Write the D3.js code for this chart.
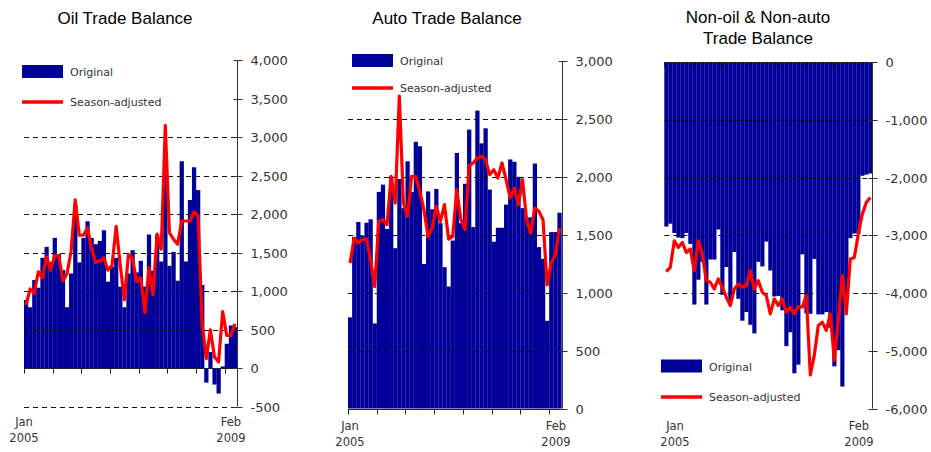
<!DOCTYPE html>
<html>
<head>
<meta charset="utf-8">
<script src="https://cdn.jsdelivr.net/npm/d3@7"></script>
<style>
  html, body { margin: 0; padding: 0; background: #fff; }
  svg { display: block; }
</style>
</head>
<body>
<svg id="chart" width="931" height="452"></svg>
<script>
// Monthly periods shown on each panel
const months = [
  "2005-01","2005-02","2005-03","2005-04","2005-05","2005-06","2005-07","2005-08","2005-09","2005-10","2005-11","2005-12",
  "2006-01","2006-02","2006-03","2006-04","2006-05","2006-06","2006-07","2006-08","2006-09","2006-10","2006-11","2006-12",
  "2007-01","2007-02","2007-03","2007-04","2007-05","2007-06","2007-07","2007-08","2007-09","2007-10","2007-11","2007-12",
  "2008-01","2008-02","2008-03","2008-04","2008-05","2008-06","2008-07","2008-08","2008-09","2008-10","2008-11","2008-12",
  "2009-01","2009-02","2009-03","2009-04"
];
const startLabel = ["Jan", "2005"];
const endLabel = ["Feb", "2009"];

// Oil trade balance
const oilOriginal = [884, 789, 1142, 1043, 1431, 1573, 1379, 1690, 1478, 1271, 789, 1228, 2112, 1371, 1690, 1905, 1690, 1608, 1651, 1789,
  1121, 1315, 1431, 1056, 789, 1228, 1530, 1241, 1392, 1056, 1733, 1263, 1733, 1383, 2521, 1327, 1508, 1133, 2685, 1383,
  2181, 2607, 2310, 1077, -190, 207, -215, -332, 20, 315, 552, 530];
const oilAdjusted = [819, 1026, 970, 1250, 1172, 1444, 1271, 1457, 1457, 1129, 1228, 1517, 2185, 1724, 1724, 1819, 1552, 1371, 1388, 1431,
  1271, 1336, 1840, 1336, 884, 1474, 1422, 1121, 1170, 720, 1300, 950, 1740, 1543, 3150, 1758, 1672, 1608, 1909, 1909,
  1909, 2026, 1974, 573, 121, 496, 142, 78, 733, 422, 422, 573];
const oilTicks = [-500, 0, 500, 1000, 1500, 2000, 2500, 3000, 3500, 4000];
const oilGrid = [-500, 500, 1000, 1500, 2000, 2500, 3000];

// Auto trade balance
const autoOriginal = [787, 1480, 1610, 1494, 1604, 1633, 734, 1870, 1933, 1550, 2004, 1384, 1981, 1730, 2134, 1869, 2302, 2264, 1248, 1874,
  1720, 1895, 1600, 1220, 1053, 1450, 2206, 1600, 1940, 2408, 1566, 2572, 2289, 2419, 1890, 1440, 1560, 1560, 1760, 2150,
  2130, 2000, 1730, 1650, 1650, 2115, 1393, 1292, 757, 1523, 1523, 1690];
const autoAdjusted = [1255, 1471, 1428, 1456, 1465, 1283, 1053, 1615, 1630, 1586, 2004, 1774, 2697, 1774, 1658, 2004, 2004, 1875, 1716, 1485,
  1557, 1745, 1615, 1760, 1462, 1485, 1889, 1630, 1543, 2097, 2120, 2163, 2177, 2149, 2019, 2062, 1990, 2120, 1975, 1817,
  1903, 1760, 1975, 1630, 1514, 1730, 1702, 1630, 1067, 1255, 1327, 1557];
const autoTicks = [0, 500, 1000, 1500, 2000, 2500, 3000];
const autoGrid = [500, 1000, 1500, 2000, 2500];

// Non-oil & non-auto trade balance
const otherOriginal = [-2850, -2800, -2960, -3040, -3050, -2960, -3150, -4200, -3770, -3460, -4200, -3420, -3420, -2900, -4030, -3550, -4150, -3290, -4100, -4480,
  -4330, -4550, -4700, -3460, -3540, -3110, -3610, -4060, -4050, -4300, -4920, -4680, -5390, -5240, -3330, -4350, -4360, -3410, -4370, -4370,
  -4330, -4600, -5270, -4990, -5620, -4130, -3050, -2970, -2970, -1970, -1950, -1930];
const otherAdjusted = [-3631, -3556, -3096, -3211, -3124, -3297, -3240, -3613, -3096, -3326, -3786, -3815, -3930, -3757, -3901, -4074, -4218, -3930, -3844, -3901,
  -3872, -3613, -3930, -3786, -3987, -4045, -4361, -4103, -4218, -4103, -4333, -4246, -4361, -4235, -4246, -4045, -5420, -5081, -4563, -4505,
  -4649, -4361, -5167, -4477, -3700, -4361, -3412, -3384, -2981, -2635, -2434, -2348];
const otherTicks = [-6000, -5000, -4000, -3000, -2000, -1000, 0];
const otherGrid = [-1000, -2000, -3000, -4000];

const legendNames = ["Original", "Season-adjusted"];

const BAR = "#000099";
const LINE = "#ff0000";
const TEXT = "#333333";
// thousands separator, plain hyphen for negatives
const fmt = d => d3.format(",")(d).replace("\u2212", "-");

const svg = d3.select("#chart");

const panels = [
  {
    title: ["Oil Trade Balance"], titleX: 125, titleY: 24,
    original: oilOriginal, adjusted: oilAdjusted, ticks: oilTicks, grid: oilGrid,
    x0: 24, x1: 237, yTop: 60, yBottom: 406.5,
    legend: { x: 22, y1: 65, y2: 102 },
    startX: 24, endX: 231, labelY: 426
  },
  {
    title: ["Auto Trade Balance"], titleX: 447, titleY: 24,
    original: autoOriginal, adjusted: autoAdjusted, ticks: autoTicks, grid: autoGrid,
    x0: 348, x1: 561.5, yTop: 61, yBottom: 408.5,
    legend: { x: 352, y1: 54, y2: 88 },
    startX: 350, endX: 556, labelY: 430
  },
  {
    title: ["Non-oil & Non-auto", "Trade Balance"], titleX: 758, titleY: 23,
    original: otherOriginal, adjusted: otherAdjusted, ticks: otherTicks, grid: otherGrid,
    x0: 664.3, x1: 872.3, yTop: 62, yBottom: 408.5,
    legend: { x: 661, y1: 359.5, y2: 397 },
    startX: 675, endX: 859, labelY: 430
  }
];

panels.forEach(p => {
  const g = svg.append("g");
  const ext = d3.extent(p.ticks);

  const x = d3.scaleBand().domain(months).range([p.x0, p.x1]).paddingInner(0).paddingOuter(0);
  const y = d3.scaleLinear().domain(ext).range([p.yBottom, p.yTop]);

  // bars grow from zero
  g.append("g").selectAll("rect")
    .data(p.original)
    .join("rect")
    .attr("x", (d, i) => x(months[i]))
    .attr("width", x.bandwidth() + 0.15)
    .attr("y", d => y(Math.max(0, d)))
    .attr("height", d => Math.abs(y(d) - y(0)))
    .attr("fill", BAR);

  // dashed horizontal gridlines
  g.append("g").selectAll("line")
    .data(p.grid)
    .join("line")
    .attr("x1", p.x0).attr("x2", p.x1)
    .attr("y1", d => Math.round(y(d)) + 0.5).attr("y2", d => Math.round(y(d)) + 0.5)
    .attr("stroke", "#111")
    .attr("stroke-width", 1)
    .attr("stroke-dasharray", "5,4");

  // zero line with category ticks every seven months
  const zy = Math.round(y(0)) + 0.5;
  g.append("line")
    .attr("x1", p.x0).attr("x2", p.x1)
    .attr("y1", zy).attr("y2", zy)
    .attr("stroke", "#222").attr("stroke-width", 1);
  const tickIdx = d3.range(0, months.length, 7);
  g.append("g").selectAll("line")
    .data(tickIdx)
    .join("line")
    .attr("x1", i => Math.round(x(months[i])) + 0.5)
    .attr("x2", i => Math.round(x(months[i])) + 0.5)
    .attr("y1", zy).attr("y2", zy + 5)
    .attr("stroke", "#222").attr("stroke-width", 1);

  // season-adjusted line
  const line = d3.line()
    .x((d, i) => x(months[i]) + x.bandwidth() / 2)
    .y(d => y(d));
  g.append("path")
    .datum(p.adjusted)
    .attr("d", line)
    .attr("fill", "none")
    .attr("stroke", LINE)
    .attr("stroke-width", 3.2)
    .attr("stroke-linejoin", "round");

  // right value axis
  const ax = Math.round(p.x1) + 0.5;
  g.append("line")
    .attr("x1", ax).attr("x2", ax)
    .attr("y1", y(ext[1])).attr("y2", y(ext[0]))
    .attr("stroke", "#333").attr("stroke-width", 1);
  const yt = g.append("g").selectAll("g")
    .data(p.ticks)
    .join("g")
    .attr("transform", d => `translate(0,${Math.round(y(d)) + 0.5})`);
  yt.append("line")
    .attr("x1", ax - 4).attr("x2", ax + 5)
    .attr("stroke", "#333").attr("stroke-width", 1);
  yt.append("text")
    .attr("x", ax + 13)
    .attr("dy", "0.36em")
    .attr("font-family", "DejaVu Sans, Verdana, sans-serif")
    .attr("font-size", 13)
    .attr("fill", TEXT)
    .text(d => fmt(d));

  // title
  const t = g.append("text")
    .attr("x", p.titleX).attr("y", p.titleY)
    .attr("text-anchor", "middle")
    .attr("font-family", "Liberation Sans, Arial, sans-serif")
    .attr("font-size", 17)
    .attr("fill", "#000");
  p.title.forEach((s, i) => {
    t.append("tspan").attr("x", p.titleX).attr("dy", i === 0 ? 0 : 21).text(s);
  });

  // legend
  const L = p.legend;
  g.append("rect")
    .attr("x", L.x).attr("y", L.y1)
    .attr("width", 41).attr("height", 13)
    .attr("fill", BAR);
  g.append("line")
    .attr("x1", L.x).attr("x2", L.x + 41)
    .attr("y1", L.y2).attr("y2", L.y2)
    .attr("stroke", LINE).attr("stroke-width", 3.5);
  g.append("text")
    .attr("x", L.x + 48).attr("y", L.y1 + 11)
    .attr("font-family", "DejaVu Sans, Verdana, sans-serif")
    .attr("font-size", 11)
    .attr("fill", TEXT)
    .text(legendNames[0]);
  g.append("text")
    .attr("x", L.x + 48).attr("y", L.y2 + 4)
    .attr("font-family", "DejaVu Sans, Verdana, sans-serif")
    .attr("font-size", 11)
    .attr("fill", TEXT)
    .text(legendNames[1]);

  // period labels at both ends of the time axis
  [[p.startX, startLabel], [p.endX, endLabel]].forEach(([cx, lbl]) => {
    const tx = g.append("text")
      .attr("x", cx).attr("y", p.labelY)
      .attr("text-anchor", "middle")
      .attr("font-family", "DejaVu Sans, Verdana, sans-serif")
      .attr("font-size", 11.5)
      .attr("fill", TEXT);
    lbl.forEach((s, i) => tx.append("tspan").attr("x", cx).attr("dy", i === 0 ? 0 : 16).text(s));
  });
});
</script>
</body>
</html>
